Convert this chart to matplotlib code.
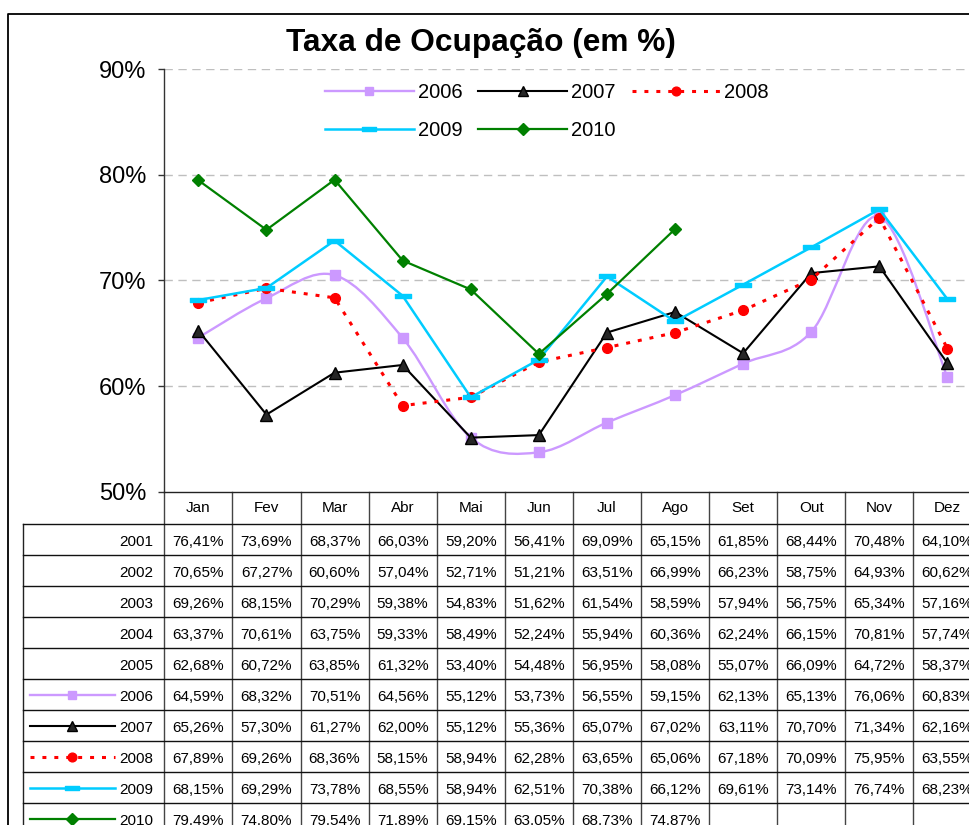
import matplotlib
matplotlib.use('Agg')
import matplotlib.pyplot as plt
from matplotlib.path import Path
from matplotlib.patches import PathPatch
from matplotlib.lines import Line2D
from matplotlib.transforms import blended_transform_factory
import numpy as np

plt.rcParams['font.family'] = ['Liberation Sans', 'DejaVu Sans']

# ---------------- data ----------------
months = ['Jan', 'Fev', 'Mar', 'Abr', 'Mai', 'Jun', 'Jul', 'Ago', 'Set', 'Out', 'Nov', 'Dez']
years = ['2001', '2002', '2003', '2004', '2005', '2006', '2007', '2008', '2009', '2010']

occ_2001 = [76.41, 73.69, 68.37, 66.03, 59.20, 56.41, 69.09, 65.15, 61.85, 68.44, 70.48, 64.10]
occ_2002 = [70.65, 67.27, 60.60, 57.04, 52.71, 51.21, 63.51, 66.99, 66.23, 58.75, 64.93, 60.62]
occ_2003 = [69.26, 68.15, 70.29, 59.38, 54.83, 51.62, 61.54, 58.59, 57.94, 56.75, 65.34, 57.16]
occ_2004 = [63.37, 70.61, 63.75, 59.33, 58.49, 52.24, 55.94, 60.36, 62.24, 66.15, 70.81, 57.74]
occ_2005 = [62.68, 60.72, 63.85, 61.32, 53.40, 54.48, 56.95, 58.08, 55.07, 66.09, 64.72, 58.37]
occ_2006 = [64.59, 68.32, 70.51, 64.56, 55.12, 53.73, 56.55, 59.15, 62.13, 65.13, 76.06, 60.83]
occ_2007 = [65.26, 57.30, 61.27, 62.00, 55.12, 55.36, 65.07, 67.02, 63.11, 70.70, 71.34, 62.16]
occ_2008 = [67.89, 69.26, 68.36, 58.15, 58.94, 62.28, 63.65, 65.06, 67.18, 70.09, 75.95, 63.55]
occ_2009 = [68.15, 69.29, 73.78, 68.55, 58.94, 62.51, 70.38, 66.12, 69.61, 73.14, 76.74, 68.23]
occ_2010 = [79.49, 74.80, 79.54, 71.89, 69.15, 63.05, 68.73, 74.87]

table_rows = [occ_2001, occ_2002, occ_2003, occ_2004, occ_2005,
              occ_2006, occ_2007, occ_2008, occ_2009, occ_2010]

yticks = [50, 60, 70, 80, 90]
title = 'Taxa de Ocupação (em %)'

# ---------------- layout (pixels) ----------------
W, H = 970, 825
def fx(px):
    return px / W
def fy(py):
    return 1 - py / H

AX_L, AX_R, AX_T, AX_B = 164.3, 981.5, 69.3, 491.7
ROW0, ROWH = 524.0, 31.05

fig = plt.figure(figsize=(W / 100, H / 100), dpi=100)
fig.patch.set_facecolor('white')

ax = fig.add_axes([fx(AX_L), fy(AX_B), (AX_R - AX_L) / W, (AX_B - AX_T) / H])
ax.set_xlim(-0.5, 11.5)
ax.set_ylim(50, 90)
ax.set_yticks(yticks)
ax.set_yticklabels([f'{t}%' for t in yticks], fontsize=17)
ax.tick_params(axis='y', direction='out', length=4.3, width=1.0, pad=8.5, color='#333333')
ax.set_xticks([])
for s in ['top', 'right']:
    ax.spines[s].set_visible(False)
ax.spines['left'].set_color('#333333')
ax.spines['bottom'].set_color('#222222')
ax.spines['left'].set_linewidth(1.0)
ax.spines['bottom'].set_linewidth(1.0)
for t in [60, 70, 80, 90]:
    ax.axhline(t, color='#BFBFBF', lw=1.0, dashes=(6, 4), zorder=0.5)

# ---------------- series ----------------
bar_marker = Path([(-1, -0.3), (1, -0.3), (1, 0.3), (-1, 0.3), (-1, -0.3)],
                  [Path.MOVETO, Path.LINETO, Path.LINETO, Path.LINETO, Path.CLOSEPOLY])

styles = {
    '2006': dict(color='#CC99FF', lw=1.7, ls='-', marker='s', ms=6.5, mfc='#CC99FF', mec='#CC99FF', smooth=True),
    '2007': dict(color='#000000', lw=1.5, ls='-', marker='^', ms=8, mfc='#262626', mec='#000000', smooth=False),
    '2008': dict(color='#FF0000', lw=2.2, ls=(0, (1.3, 2.6)), marker='o', ms=7, mfc='#FF0000', mec='#FF0000', smooth=False),
    '2009': dict(color='#00CCFF', lw=1.8, ls='-', marker=bar_marker, ms=11, mfc='#00CCFF', mec='#00CCFF', smooth=False),
    '2010': dict(color='#008000', lw=1.6, ls='-', marker='D', ms=6.5, mfc='#008000', mec='#008000', smooth=False),
}
series = {'2006': occ_2006, '2007': occ_2007, '2008': occ_2008, '2009': occ_2009, '2010': occ_2010}


def smooth_path(xs, ys):
    pts = np.column_stack([xs, ys]).astype(float)
    n = len(pts)
    verts = [pts[0]]
    codes = [Path.MOVETO]
    for i in range(n - 1):
        p0 = pts[max(i - 1, 0)]
        p1 = pts[i]
        p2 = pts[i + 1]
        p3 = pts[min(i + 2, n - 1)]
        c1 = p1 + (p2 - p0) / 6.0
        c2 = p2 - (p3 - p1) / 6.0
        verts += [c1, c2, p2]
        codes += [Path.CURVE4] * 3
    return Path(verts, codes)


z = 3
for name, vals in series.items():
    st = styles[name]
    xs = np.arange(len(vals))
    if st['smooth']:
        patch = PathPatch(smooth_path(xs, vals), facecolor='none', edgecolor=st['color'],
                          lw=st['lw'], linestyle=st['ls'], capstyle='butt', zorder=z)
        ax.add_patch(patch)
        ax.plot(xs, vals, ls='none', marker=st['marker'], ms=st['ms'],
                mfc=st['mfc'], mec=st['mec'], zorder=z + 0.5)
    else:
        ax.plot(xs, vals, color=st['color'], lw=st['lw'], ls=st['ls'], dash_capstyle='butt',
                marker=st['marker'], ms=st['ms'], mfc=st['mfc'], mec=st['mec'], zorder=z)
    z += 1


def proxy(name, ms_scale=1.0):
    st = styles[name]
    return Line2D([], [], color=st['color'], lw=st['lw'], ls=st['ls'], marker=st['marker'],
                  ms=st['ms'] * ms_scale, mfc=st['mfc'], mec=st['mec'], dash_capstyle='butt')

order = ['2006', '2009', '2007', '2010', '2008']
leg = fig.legend([proxy(n, 0.9) for n in order], order, loc='upper left',
                 bbox_to_anchor=(fx(325), fy(83)), bbox_transform=fig.transFigure,
                 ncol=3, frameon=False, fontsize=14.5, handlelength=4.4, handletextpad=0.2,
                 columnspacing=0.8, labelspacing=0.95, borderpad=0, borderaxespad=0,
                 numpoints=1)

# ---------------- title & border ----------------
fig.text(fx(481), fy(43), title, ha='center', va='center', fontsize=22.8, fontweight='bold')
fig.add_artist(Line2D([fx(8), fx(8), fx(990)], [fy(830), fy(14), fy(14)],
                      transform=fig.transFigure, color='black', lw=1.3))

# ---------------- data table ----------------
bt = blended_transform_factory(ax.transData, fig.transFigure)
bottom_px = 830
for i in range(13):
    ax.add_artist(Line2D([i - 0.5, i - 0.5], [fy(AX_B), fy(bottom_px)], transform=bt,
                         color='#444444', lw=1.0, clip_on=False))
fig.add_artist(Line2D([fx(23.5), fx(23.5)], [fy(ROW0), fy(bottom_px)],
                      transform=fig.transFigure, color='#222222', lw=1.0))
for k in range(len(years)):
    yy = ROW0 + k * ROWH
    fig.add_artist(Line2D([fx(23.5), fx(990)], [fy(yy), fy(yy)],
                          transform=fig.transFigure, color='#111111', lw=1.0))

for i, m in enumerate(months):
    ax.text(i, fy(AX_B + 20.5), m, transform=bt, ha='center', va='baseline',
            fontsize=11, clip_on=False)

for r, (yr, vals) in enumerate(zip(years, table_rows)):
    top = ROW0 + r * ROWH
    base = top + 22
    fig.text(fx(153), fy(base), yr, ha='right', va='baseline', fontsize=11)
    for i, v in enumerate(vals):
        s = f'{v:.2f}'.replace('.', ',') + '%'
        ax.text(i, fy(base), s, transform=bt, ha='center', va='baseline',
                fontsize=11, clip_on=False)
    if yr in styles:
        st = styles[yr]
        cy = fy(top + ROWH / 2)
        fig.add_artist(Line2D([fx(30), fx(115)], [cy, cy], transform=fig.transFigure,
                              color=st['color'], lw=st['lw'], ls=st['ls'], dash_capstyle='butt'))
        fig.add_artist(Line2D([fx(71.5)], [cy], transform=fig.transFigure, ls='none',
                              marker=st['marker'], ms=st['ms'] * 0.9, mfc=st['mfc'], mec=st['mec']))

fig.savefig('out.png', dpi=100, facecolor='white')
